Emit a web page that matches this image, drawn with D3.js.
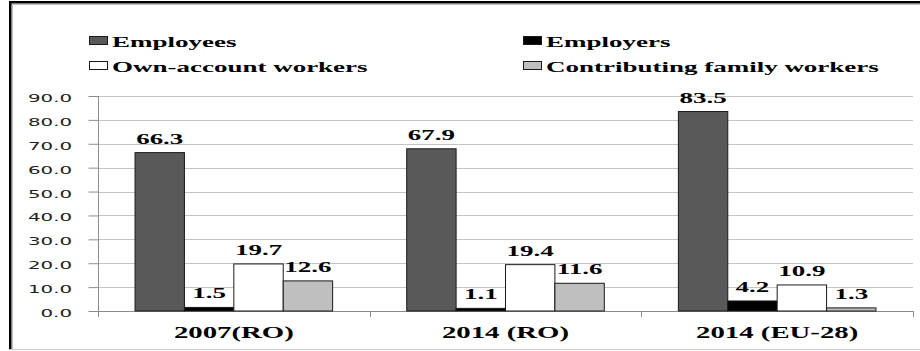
<!DOCTYPE html>
<html>
<head>
<meta charset="utf-8">
<script src="https://cdn.jsdelivr.net/npm/d3@7"></script>
<style>
  html, body { margin: 0; padding: 0; background: #fff; }
  svg { display: block; }
  .serif { font-family: "Liberation Serif", "Times New Roman", "DejaVu Serif", serif; font-weight: bold; }
  .sans { font-family: "DejaVu Sans", Verdana, sans-serif; font-weight: normal; }
</style>
</head>
<body>
<svg id="chart" width="920" height="351"></svg>
<script>
// Employment status shares (%)
const categories = ["2007(RO)", "2014 (RO)", "2014 (EU-28)"];
const seriesNames = ["Employees", "Employers", "Own-account workers", "Contributing family workers"];
const employees = [66.3, 67.9, 83.5];
const employers = [1.5, 1.1, 4.2];
const ownAccount = [19.7, 19.4, 10.9];
const contributing = [12.6, 11.6, 1.3];
const yTicks = [0, 10, 20, 30, 40, 50, 60, 70, 80, 90];

const seriesValues = [employees, employers, ownAccount, contributing];
const fills = ["#595959", "#000000", "#ffffff", "#bfbfbf"];

const svg = d3.select("#chart");
const W = 920, H = 351;
const SX = 1.8; // wide glyph stretch used for all text

const plot = { left: 98, right: 913, top: 96, bottom: 311 };

const x0 = d3.scaleBand().domain(categories).range([plot.left, plot.right]).padding(0);
const x1 = d3.scaleBand().domain(seriesNames).range([0, x0.bandwidth()])
  .paddingInner(0).paddingOuter(0.75);
const y = d3.scaleLinear().domain([0, 90]).range([plot.bottom, plot.top]);

// stretched text helper
function label(g, txt, x, yy, opts) {
  return g.append("text")
    .attr("class", opts.cls || "serif")
    .attr("transform", `translate(${x},${yy}) scale(${opts.sx || SX},1)`)
    .attr("text-anchor", opts.anchor || "start")
    .style("font-size", (opts.size || 15) + "px")
    .attr("fill", opts.fill || "#000")
    .text(txt);
}

// frame
svg.append("rect").attr("x", 9).attr("y", 1).attr("width", W - 9).attr("height", 2.5).attr("fill", "#000");
svg.append("line").attr("x1", 9).attr("x2", W).attr("y1", 4.5).attr("y2", 4.5).attr("stroke", "#bdbdbd");
svg.append("rect").attr("x", 9).attr("y", 1).attr("width", 2.5).attr("height", 348).attr("fill", "#000");
svg.append("line").attr("x1", 12.5).attr("x2", 12.5).attr("y1", 4).attr("y2", 349).attr("stroke", "#bdbdbd");
svg.append("line").attr("x1", 9).attr("x2", W).attr("y1", 349.5).attr("y2", 349.5).attr("stroke", "#c8c8c8");

// gridlines
svg.append("g").selectAll("line").data(yTicks.filter(d => d > 0)).join("line")
  .attr("x1", plot.left).attr("x2", plot.right)
  .attr("y1", d => Math.round(y(d)) + 0.5).attr("y2", d => Math.round(y(d)) + 0.5)
  .attr("stroke", "#c4c4c4").attr("stroke-width", 1);

// y axis
const yAxis = d3.axisLeft(y).tickValues(yTicks).tickFormat(d3.format(".1f")).tickSize(10).tickPadding(0);
const yg = svg.append("g").attr("transform", `translate(${plot.left + 0.5},0)`).call(yAxis);
yg.select(".domain").remove();
yg.selectAll(".tick line").attr("stroke", "#8c8c8c");
yg.selectAll(".tick text").remove();
svg.append("line").attr("x1", plot.left + 0.5).attr("x2", plot.left + 0.5)
  .attr("y1", plot.top).attr("y2", plot.bottom + 6).attr("stroke", "#8c8c8c");
const yl = svg.append("g");
yTicks.forEach(t => {
  label(yl, d3.format(".1f")(t), 72, y(t) + 6, { anchor: "end", cls: "sans", size: 11, fill: "#222" });
});

// x axis
svg.append("line").attr("x1", plot.left).attr("x2", plot.right)
  .attr("y1", plot.bottom + 0.5).attr("y2", plot.bottom + 0.5).attr("stroke", "#8c8c8c");
const bounds = categories.map(c => x0(c)).concat([x0(categories[categories.length - 1]) + x0.bandwidth()]);
svg.append("g").selectAll("line").data(bounds).join("line")
  .attr("x1", d => Math.round(d) + 0.5).attr("x2", d => Math.round(d) + 0.5)
  .attr("y1", plot.bottom).attr("y2", plot.bottom + 6).attr("stroke", "#8c8c8c");
const xl = svg.append("g");
categories.forEach(c => {
  label(xl, c, x0(c) + x0.bandwidth() / 2, 338, { anchor: "middle", size: 16 });
});

// bars
const groups = svg.append("g").selectAll("g").data(categories).join("g")
  .attr("transform", c => `translate(${x0(c)},0)`);
groups.each(function (c, ci) {
  const g = d3.select(this);
  seriesNames.forEach((s, si) => {
    const v = seriesValues[si][ci];
    g.append("rect")
      .attr("x", x1(s)).attr("y", y(v))
      .attr("width", x1.bandwidth()).attr("height", y(0) - y(v))
      .attr("fill", fills[si]).attr("stroke", "#1a1a1a").attr("stroke-width", 1);
    label(g, d3.format(".1f")(v), x1(s) + x1.bandwidth() / 2, y(v) - 9, { anchor: "middle", size: 15 });
  });
});

// legend
const legendPos = [
  { x: 89, y: 47 }, { x: 523, y: 47 },
  { x: 89, y: 72 }, { x: 523, y: 72 }
];
const lg = svg.append("g");
seriesNames.forEach((s, i) => {
  const p = legendPos[i];
  lg.append("rect").attr("x", p.x + 0.5).attr("y", p.y - 10.5).attr("width", 18).attr("height", 8)
    .attr("fill", fills[i]).attr("stroke", "#1a1a1a").attr("stroke-width", 1);
  label(lg, s, p.x + 23, p.y, { size: 15 });
});
</script>
</body>
</html>
